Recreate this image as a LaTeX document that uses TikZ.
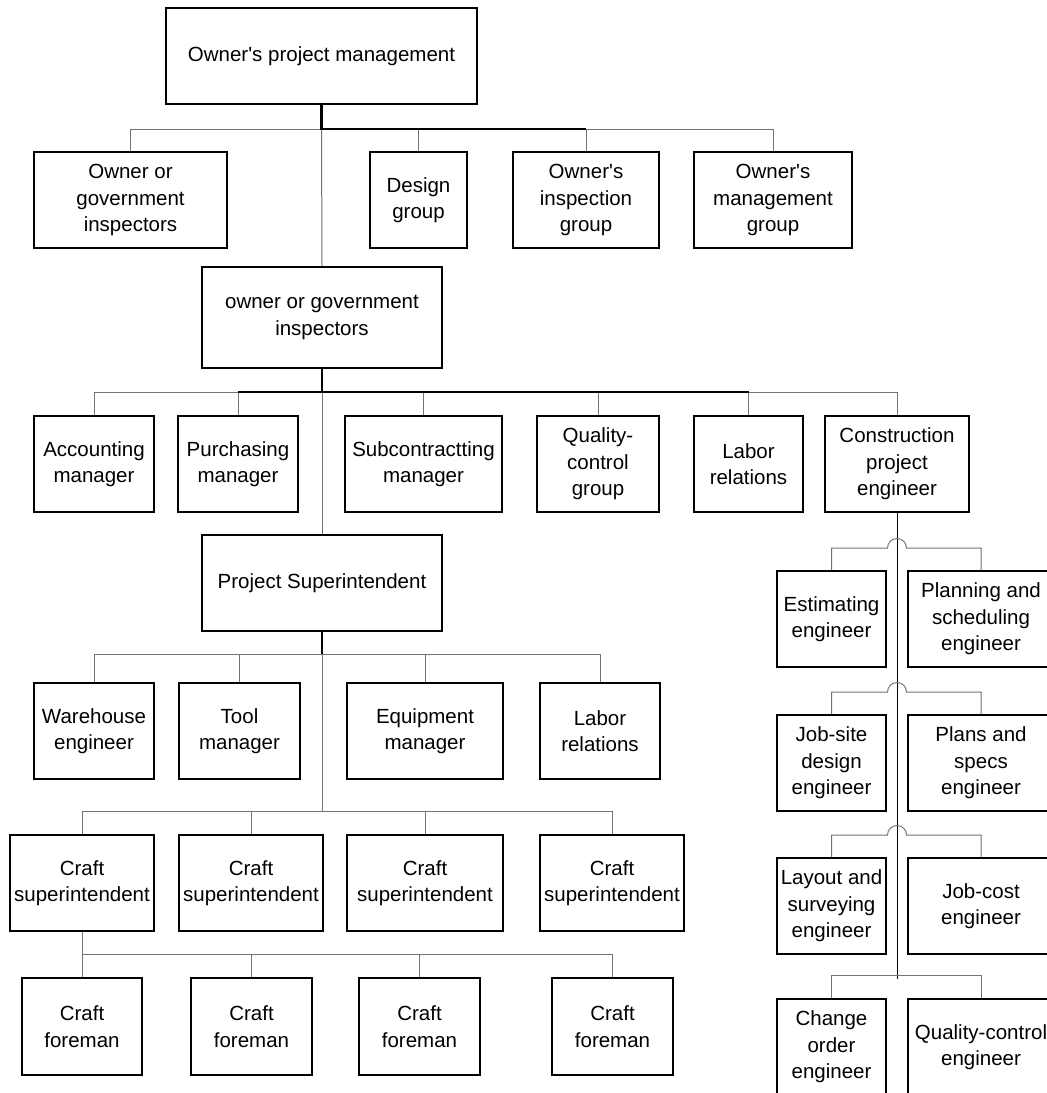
\documentclass[tikz,border=0pt]{standalone}
\usepackage{fontspec}
\setmainfont{Liberation Sans}
\usetikzlibrary{calc}
\tikzset{
  orgbox/.style={draw=black, line width=1.6pt, align=center, inner sep=0pt,
    font=\fontsize{20.5}{26.5}\selectfont},
  thinln/.style={draw=black!55, line width=1pt},
  thickln/.style={draw=black, line width=2.2pt},
  trunkln/.style={draw=black, line width=1pt},
}
\newcommand\obox[6]{\node[orgbox, minimum width={#4-#2}, minimum height={#5-#3}] (#1) at ({(#2+#4)/2},{(#3+#5)/2}) {#6};}
\newcommand\q{\textquotesingle}
\begin{document}
\begin{tikzpicture}[x=1pt,y=-1pt]
\useasboundingbox[fill=white] (0,0) rectangle (1047,1093);
% bus heights
\coordinate (b1) at (0,129);
\coordinate (b2) at (0,392);
\coordinate (b3) at (0,654);
\coordinate (b4) at (0,811);
\coordinate (b5) at (0,954);
\coordinate (h1) at (0,548);
\coordinate (h2) at (0,692);
\coordinate (h3) at (0,835);
\coordinate (h4) at (0,975);
\coordinate (tend) at (0,979);
% boxes
\obox{top}{166}{8}{477}{104}{Owner\q s project management}
\obox{ogi}{34}{152}{227}{248}{Owner or\\government\\inspectors}
\obox{des}{370}{152}{467}{248}{Design\\group}
\obox{oig}{513}{152}{659}{248}{Owner\q s\\inspection\\group}
\obox{omg}{694}{152}{852}{248}{Owner\q s\\management\\group}
\obox{ins}{202}{267}{442}{368}{owner or government\\inspectors}
\obox{acc}{34}{416}{154}{512}{Accounting\\manager}
\obox{pur}{178}{416}{298}{512}{Purchasing\\manager}
\obox{sub}{345}{416}{502}{512}{Subcontractting\\manager}
\obox{qcg}{537}{416}{659}{512}{Quality-\\control\\group}
\obox{lab1}{694}{416}{803}{512}{Labor\\relations}
\obox{cpe}{825}{416}{969}{512}{Construction\\project\\engineer}
\obox{ps}{202}{535}{442}{631}{Project Superintendent}
\obox{wh}{34}{683}{154}{779}{Warehouse\\engineer}
\obox{tool}{179}{683}{300}{779}{Tool\\manager}
\obox{eq}{347}{683}{503}{779}{Equipment\\manager}
\obox{lab2}{540}{683}{660}{779}{Labor\\relations}
\obox{cs1}{10}{835}{154}{931}{Craft\\superintendent}
\obox{cs2}{179}{835}{323}{931}{Craft\\superintendent}
\obox{cs3}{347}{835}{503}{931}{Craft\\superintendent}
\obox{cs4}{540}{835}{684}{931}{Craft\\superintendent}
\obox{cf1}{22}{978}{142}{1075}{Craft\\foreman}
\obox{cf2}{191}{978}{312}{1075}{Craft\\foreman}
\obox{cf3}{359}{978}{480}{1075}{Craft\\foreman}
\obox{cf4}{552}{978}{673}{1075}{Craft\\foreman}
\obox{est}{777}{571}{886}{667}{Estimating\\engineer}
\obox{pse}{908}{571}{1054}{667}{Planning and\\scheduling\\engineer}
\obox{jsd}{777}{715}{886}{811}{Job-site\\design\\engineer}
\obox{pns}{908}{715}{1054}{811}{Plans and\\specs\\engineer}
\obox{lay}{777}{858}{886}{954}{Layout and\\surveying\\engineer}
\obox{jce}{908}{858}{1054}{954}{Job-cost\\engineer}
\obox{coe}{777}{999}{886}{1095}{Change\\order\\engineer}
\obox{qce}{908}{999}{1054}{1095}{Quality-control\\engineer}
% level 1
\draw[thinln] (top.south |- b1) -| (ogi.north);
\draw[thinln] (top.south |- b1) -| (des.north);
\draw[thinln] (top.south |- b1) -| (oig.north);
\draw[thinln] (top.south |- b1) -| (omg.north);
\draw[thinln] (top.south |- b1) -- (ins.north);
\draw[thickln] (top.south) -- (top.south |- b1) -- (oig.north |- b1);
% level 2
\draw[thinln] (ins.south |- b2) -| (acc.north);
\draw[thinln] (ins.south |- b2) -| (pur.north);
\draw[thinln] (ins.south |- b2) -| (sub.north);
\draw[thinln] (ins.south |- b2) -| (qcg.north);
\draw[thinln] (ins.south |- b2) -| (lab1.north);
\draw[thinln] (ins.south |- b2) -| (cpe.north);
\draw[thinln] (ins.south |- b2) -- (ps.north);
\draw[thickln] (ins.south) -- (ins.south |- b2);
\draw[thickln] (pur.north |- b2) -- (lab1.north |- b2);
% level 3
\draw[thinln] (ps.south |- b3) -| (wh.north);
\draw[thinln] (ps.south |- b3) -| (tool.north);
\draw[thinln] (ps.south |- b3) -| (eq.north);
\draw[thinln] (ps.south |- b3) -| (lab2.north);
\draw[thickln] (ps.south) -- (ps.south |- b3);
% level 4
\draw[thinln] (ps.south |- b3) -- (ps.south |- b4);
\draw[thinln] (ps.south |- b4) -| (cs1.north);
\draw[thinln] (ps.south |- b4) -| (cs2.north);
\draw[thinln] (ps.south |- b4) -| (cs3.north);
\draw[thinln] (ps.south |- b4) -| (cs4.north);
% level 5
\draw[thinln] (cs1.south) -- (cs1.south |- b5);
\draw[thinln] (cs1.south |- b5) -| (cf1.north);
\draw[thinln] (cs1.south |- b5) -| (cf2.north);
\draw[thinln] (cs1.south |- b5) -| (cf3.north);
\draw[thinln] (cs1.south |- b5) -| (cf4.north);
% right column
\draw[trunkln] (cpe.south) -- (cpe.south |- tend);
\draw[thinln] (est.north) |- ($(cpe.south |- h1)+(-9.5,0)$)
  arc[start angle=180, end angle=0, radius=9.5pt] -| (pse.north);
\draw[thinln] (jsd.north) |- ($(cpe.south |- h2)+(-9.5,0)$)
  arc[start angle=180, end angle=0, radius=9.5pt] -| (pns.north);
\draw[thinln] (lay.north) |- ($(cpe.south |- h3)+(-9.5,0)$)
  arc[start angle=180, end angle=0, radius=9.5pt] -| (jce.north);
\draw[thinln] (coe.north) |- (cpe.south |- h4) -| (qce.north);
\end{tikzpicture}
\end{document}
